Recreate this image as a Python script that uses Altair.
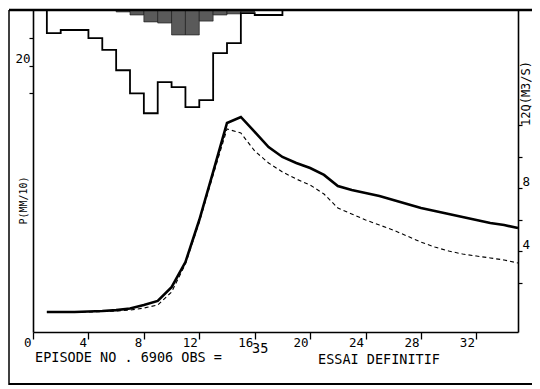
import altair as alt
import pandas as pd

# ---- data ----
# Discharge Q (m3/s) at each time step
t_q = list(range(1, 36))
q_obs = [0.13, 0.13, 0.13, 0.16, 0.19, 0.25, 0.35, 0.57, 0.83, 1.71,
         3.30, 5.97, 9.02, 12.13, 12.51, 11.56, 10.60, 9.97, 9.59, 9.27,
         8.83, 8.13, 7.87, 7.68, 7.49, 7.24, 6.98, 6.73, 6.54, 6.35,
         6.16, 5.97, 5.78, 5.65, 5.46]
q_sim = [0.13, 0.13, 0.13, 0.13, 0.16, 0.19, 0.25, 0.38, 0.57, 1.40,
         3.17, 5.84, 8.83, 11.75, 11.49, 10.35, 9.59, 9.02, 8.57, 8.19,
         7.62, 6.73, 6.35, 5.97, 5.65, 5.33, 4.95, 4.57, 4.25, 4.00,
         3.81, 3.68, 3.56, 3.43, 3.24]

# Rainfall P (mm/10), value at t holds from t to t+1 (step line)
t_p = list(range(0, 19)) + [35]
p_total = [0, 8.3, 7.2, 7.2, 10.1, 14.4, 21.7, 30.0, 37.2, 26.0, 27.8,
           35.0, 32.5, 15.5, 11.9, 1.1, 1.8, 1.8, 0, 0]

# Hatched (net) rainfall bars
t_net = [6, 7, 8, 9, 10, 11, 12, 13, 14, 15]
p_net = [0.7, 1.8, 4.3, 4.7, 9.0, 9.0, 4.0, 1.8, 1.4, 0.7]

x_ticks = [0, 4, 8, 12, 16, 20, 24, 28, 32]
p_ticks = [10, 20, 30]
q_ticks = [2, 4, 6, 8, 10, 12]

footer_left = "EPISODE NO . 6906 OBS ="
footer_obs = "35"
footer_right = "ESSAI DEFINITIF"

MONO = "DejaVu Sans Mono"

df_q = pd.DataFrame({"t": t_q, "obs": q_obs, "sim": q_sim})
df_p = pd.DataFrame({"t": t_p, "p": p_total})
df_net = pd.DataFrame({"t": t_net, "p": p_net})

W, H = 485, 322

xs = alt.Scale(domain=[0, 35], nice=False, zero=False)
ps = alt.Scale(domain=[0, 116], reverse=True, nice=False, zero=False)
qs = alt.Scale(domain=[-1.14, 19.3], nice=False, zero=False)

x_axis = alt.Axis(values=x_ticks, tickSize=7, tickWidth=1.3, domainWidth=1.6,
                  domainColor="black", tickColor="black", labelColor="black",
                  labelFont=MONO, labelFontSize=12.5, labelAlign="right",
                  labelOffset=-2, labelBaseline="top", labelPadding=-3,
                  labelFlush=False, labelOverlap=False, grid=False, title=None)

p_axis = alt.Axis(orient="left", values=p_ticks,
                  labelExpr="datum.value == 20 ? '20' : ''",
                  tickSize=4, tickWidth=1.2, domainWidth=1.6,
                  domainColor="black", tickColor="black", labelColor="black",
                  labelFont=MONO, labelFontSize=12.5, labelBaseline="bottom",
                  labelPadding=-1, labelOverlap=False, grid=False,
                  title="P(MM/10)", titleFont=MONO, titleFontSize=10,
                  titleFontWeight="normal", titleColor="black",
                  titleAngle=270, titleX=-10, titleY=190,
                  titleAlign="center", titleBaseline="middle")

q_axis = alt.Axis(orient="right", values=q_ticks,
                  labelExpr="(datum.value == 4 || datum.value == 8) ? datum.label : ''",
                  tickSize=4, tickWidth=1.2, domainWidth=1.6,
                  domainColor="black", tickColor="black", labelColor="black",
                  labelFont=MONO, labelFontSize=12.5, labelBaseline="bottom",
                  labelAlign="left", labelPadding=0, labelOverlap=False,
                  grid=False,
                  title="12Q(M3/S)", titleFont=MONO, titleFontSize=12,
                  titleFontWeight="normal", titleColor="black",
                  titleAngle=270, titleX=7, titleY=83,
                  titleAlign="center", titleBaseline="middle")

bars = alt.Chart(df_net).transform_calculate(t2="datum.t + 1").mark_bar(
    fill="#5a5a5a", stroke="#111", strokeWidth=0.6
).encode(
    x=alt.X("t:Q", scale=xs, axis=x_axis),
    x2="t2:Q",
    y=alt.Y("p:Q", scale=ps, axis=p_axis),
    y2=alt.datum(0),
)

step = alt.Chart(df_p).mark_line(
    interpolate="step-after", color="black", strokeWidth=1.8
).encode(
    x=alt.X("t:Q", scale=xs),
    y=alt.Y("p:Q", scale=ps),
)

rain = alt.layer(bars, step)

obs = alt.Chart(df_q).mark_line(color="black", strokeWidth=2.6).encode(
    x=alt.X("t:Q", scale=xs),
    y=alt.Y("obs:Q", scale=qs, axis=q_axis),
)
sim = alt.Chart(df_q).mark_line(color="black", strokeWidth=1.1,
                                strokeDash=[4, 3]).encode(
    x=alt.X("t:Q", scale=xs),
    y=alt.Y("sim:Q", scale=qs),
)
flow = alt.layer(obs, sim)

one = pd.DataFrame({"v": [0]})

# outer frame of the plotted sheet
frame_top = alt.Chart(one).mark_rule(color="black", strokeWidth=2.5).encode(
    x=alt.value(-24), x2=alt.value(W + 14), y=alt.value(0))
frame_left = alt.Chart(one).mark_rule(color="black", strokeWidth=1.5).encode(
    x=alt.value(-24), y=alt.value(0), y2=alt.value(375))
frame_bottom = alt.Chart(one).mark_rule(color="black", strokeWidth=1.8).encode(
    x=alt.value(-24), x2=alt.value(W + 14), y=alt.value(374))

txt1 = alt.Chart(pd.DataFrame({"s": [footer_left]})).mark_text(
    font=MONO, fontSize=13.5, align="left", baseline="middle", color="black"
).encode(text="s:N", x=alt.value(2), y=alt.value(348))
txt2 = alt.Chart(pd.DataFrame({"s": [footer_obs]})).mark_text(
    font=MONO, fontSize=13.5, align="left", baseline="middle", color="black"
).encode(text="s:N", x=alt.value(219), y=alt.value(339))
txt3 = alt.Chart(pd.DataFrame({"s": [footer_right]})).mark_text(
    font=MONO, fontSize=13.5, align="left", baseline="middle", color="black"
).encode(text="s:N", x=alt.value(285), y=alt.value(350))

main = alt.layer(rain, flow).resolve_scale(y="independent")

chart = alt.layer(
    main, frame_top, frame_left, frame_bottom, txt1, txt2, txt3
).properties(
    width=W, height=H,
    autosize=alt.AutoSizeParams(type="none"),
    padding={"left": 25, "top": 2, "right": 14, "bottom": 55},
    background="white",
).configure_view(stroke=None)

chart.save("out.html", embed_options={"renderer": "svg", "actions": False})
